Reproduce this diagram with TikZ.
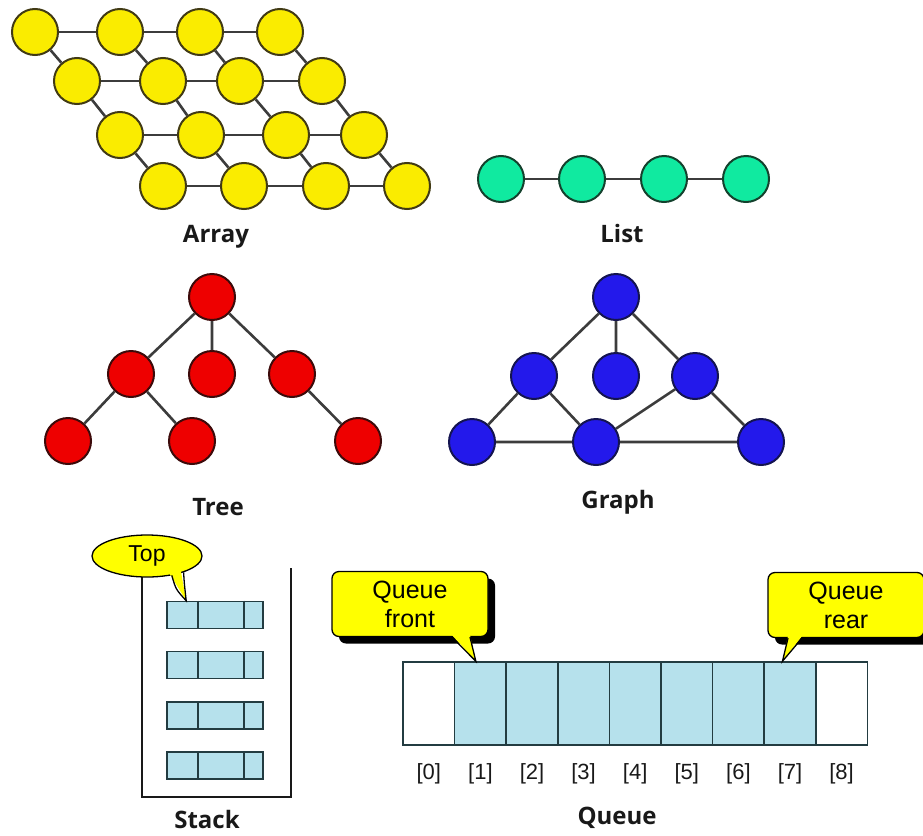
\documentclass[tikz,border=0pt]{standalone}
\usepackage{fontspec}
\setmainfont{Liberation Sans}
\newfontfamily\labfont{Open Sans}
\usetikzlibrary{calc,shapes.geometric}
\definecolor{arrY}{RGB}{250,236,0}
\definecolor{arrS}{RGB}{65,58,20}
\definecolor{lstG}{RGB}{16,234,160}
\definecolor{lstS}{RGB}{20,65,45}
\definecolor{treR}{RGB}{238,0,0}
\definecolor{treS}{RGB}{60,10,10}
\definecolor{grfB}{RGB}{35,25,235}
\definecolor{grfS}{RGB}{20,20,80}
\definecolor{edgeC}{RGB}{60,60,60}
\definecolor{cellB}{RGB}{182,225,236}
\definecolor{cellS}{RGB}{35,60,65}
\definecolor{callY}{RGB}{255,255,0}
\definecolor{txt}{RGB}{25,25,25}
\begin{document}
\begin{tikzpicture}[x=1pt,y=-1pt,
  dot/.style={circle, minimum size=46pt, inner sep=0pt, line width=2pt},
  arr/.style={dot, fill=arrY, draw=arrS},
  lst/.style={dot, fill=lstG, draw=lstS},
  tre/.style={dot, fill=treR, draw=treS},
  grf/.style={dot, fill=grfB, draw=grfS},
  edge/.style={draw=edgeC, line width=2.6pt},
  lab/.style={font=\labfont\bfseries\fontsize{24}{28}\selectfont, text=txt, inner sep=0pt},
  cell/.style={draw=cellS, line width=1.5pt, minimum width=51.6pt, minimum height=83pt, inner sep=0pt},
  item/.style={draw=cellS, fill=cellB, line width=1.6pt, minimum width=96pt, minimum height=27pt, inner sep=0pt},
  idx/.style={font=\fontsize{22}{26}\selectfont, text=txt, inner sep=0pt},
  callbox/.style={rectangle, rounded corners=7pt, minimum width=156pt, minimum height=65pt, inner sep=0pt, align=center, font=\fontsize{25}{29}\selectfont},
  wall/.style={draw=txt, line width=2.6pt}
]
\useasboundingbox (0,0) rectangle (923,835);

% ---------------- Array ----------------
\node[arr] (a11) at (35,32) {};
\node[arr] (a12) at (120,32) {};
\node[arr] (a13) at (200,32) {};
\node[arr] (a14) at (280,32) {};
\node[arr] (a21) at (77,81) {};
\node[arr] (a22) at (163,81) {};
\node[arr] (a23) at (240,81) {};
\node[arr] (a24) at (322,81) {};
\node[arr] (a31) at (120,135) {};
\node[arr] (a32) at (201,135) {};
\node[arr] (a33) at (286,135) {};
\node[arr] (a34) at (364,135) {};
\node[arr] (a41) at (163,186) {};
\node[arr] (a42) at (244,186) {};
\node[arr] (a43) at (326,186) {};
\node[arr] (a44) at (407,186) {};
\foreach \r in {1,2,3,4}{
  \draw[edge] (a\r1) -- (a\r2) (a\r2) -- (a\r3) (a\r3) -- (a\r4);
}
\foreach \c in {1,2,3,4}{
  \draw[edge] (a1\c) -- (a2\c) (a2\c) -- (a3\c) (a3\c) -- (a4\c);
}
\node[lab] (larr) at (216,237) {Array};

% ---------------- List ----------------
\node[lst] (l1) at (501,179) {};
\node[lst] (l2) at (582,179) {};
\node[lst] (l3) at (664,179) {};
\node[lst] (l4) at (746,179) {};
\draw[edge] (l1) -- (l2) (l2) -- (l3) (l3) -- (l4);
\node[lab] (llst) at (622,233) {List};

% ---------------- Tree ----------------
\node[tre] (t0) at (212,297) {};
\node[tre] (t1) at (131,374) {};
\node[tre] (t2) at (212,374) {};
\node[tre] (t3) at (292,374) {};
\node[tre] (t4) at (68,441) {};
\node[tre] (t5) at (192,441) {};
\node[tre] (t6) at (358,441) {};
\draw[edge] (t0) -- (t1) (t0) -- (t2) (t0) -- (t3) (t1) -- (t4) (t1) -- (t5) (t3) -- (t6);
\node[lab] (ltre) at (218,507) {Tree};

% ---------------- Graph ----------------
\node[grf] (g0) at (616,297) {};
\node[grf] (g1) at (534,376) {};
\node[grf] (g2) at (616,376) {};
\node[grf] (g3) at (695,376) {};
\node[grf] (g4) at (472,442) {};
\node[grf] (g5) at (596,442) {};
\node[grf] (g6) at (761,442) {};
\draw[edge] (g0) -- (g1) (g0) -- (g2) (g0) -- (g3) (g1) -- (g4) (g1) -- (g5)
  (g3) -- (g5) (g3) -- (g6) (g4) -- (g5) (g5) -- (g6);
\node[lab] (lgrf) at (618,502) {Graph};

% ---------------- Stack ----------------
\coordinate (wA) at (142,570);
\coordinate (wB) at (142,797);
\coordinate (wC) at (291,797);
\coordinate (wD) at (291,568);
\draw[wall] (wA) -- (wB) -- (wC) -- (wD);
\foreach \n/\yy in {1/615,2/665,3/715.5,4/765.5}{
  \node[item] (s\n) at (215,\yy) {};
  \draw[draw=cellS, line width=1.6pt] ([xshift=32pt]s\n.north west) -- ([xshift=32pt]s\n.south west);
  \draw[draw=cellS, line width=1.6pt] ([xshift=78pt]s\n.north west) -- ([xshift=78pt]s\n.south west);
}
% Top callout
\node[ellipse, fill=callY, draw=black, line width=1.3pt, minimum width=110pt, minimum height=42pt, inner sep=0pt,
  font=\fontsize{23}{27}\selectfont] (ct) at (147,556) {Top};
\coordinate (ttip) at ([xshift=20pt]s1.north west);
\fill[callY] ($(ct.-38)!3pt!(ct.center)$) -- (ttip) -- ($(ct.-24)!3pt!(ct.center)$) -- cycle;
\draw[black, line width=1.3pt] (ct.-38) .. controls +(4,14) .. (ttip) .. controls +(-2,-18) .. (ct.-24);
\node[lab] (lstk) at (207,819) {Stack};

% ---------------- Queue ----------------
\node[cell, fill=white] (q0) at (428.8,703.5) {};
\node[cell, fill=cellB] (q1) at (480.4,703.5) {};
\node[cell, fill=cellB] (q2) at (532.0,703.5) {};
\node[cell, fill=cellB] (q3) at (583.6,703.5) {};
\node[cell, fill=cellB] (q4) at (635.2,703.5) {};
\node[cell, fill=cellB] (q5) at (686.8,703.5) {};
\node[cell, fill=cellB] (q6) at (738.4,703.5) {};
\node[cell, fill=cellB] (q7) at (790.0,703.5) {};
\node[cell, fill=white] (q8) at (841.6,703.5) {};
\foreach \i in {0,...,8}{
  \node[idx] (x\i) at ([yshift=-28pt]q\i.south) {[\i]};
}
\node[lab] (lque) at (617,818) {Queue};

% Queue front callout
\node[callbox, fill=black] (cfs) at (417,611) {};
\node[callbox, fill=callY, draw=black, line width=1.3pt] (cf) at (410,604) {Queue\\front};
\coordinate (ftip) at ([xshift=22pt]q1.north west);
\fill[callY] ([xshift=42pt,yshift=2pt]cf.south) -- (ftip) -- ([xshift=60pt,yshift=2pt]cf.south) -- cycle;
\draw[black, line width=1.3pt] ([xshift=42pt]cf.south) -- (ftip) -- ([xshift=60pt]cf.south);

% Queue rear callout
\node[callbox, fill=black] (crs) at (853,612) {};
\node[callbox, fill=callY, draw=black, line width=1.3pt] (cr) at (846,605) {Queue\\rear};
\coordinate (rtip) at ([xshift=19pt]q7.north west);
\fill[callY] ([xshift=-58pt,yshift=2pt]cr.south) -- (rtip) -- ([xshift=-44pt,yshift=2pt]cr.south) -- cycle;
\draw[black, line width=1.3pt] ([xshift=-58pt]cr.south) -- (rtip) -- ([xshift=-44pt]cr.south);
\end{tikzpicture}
\end{document}
